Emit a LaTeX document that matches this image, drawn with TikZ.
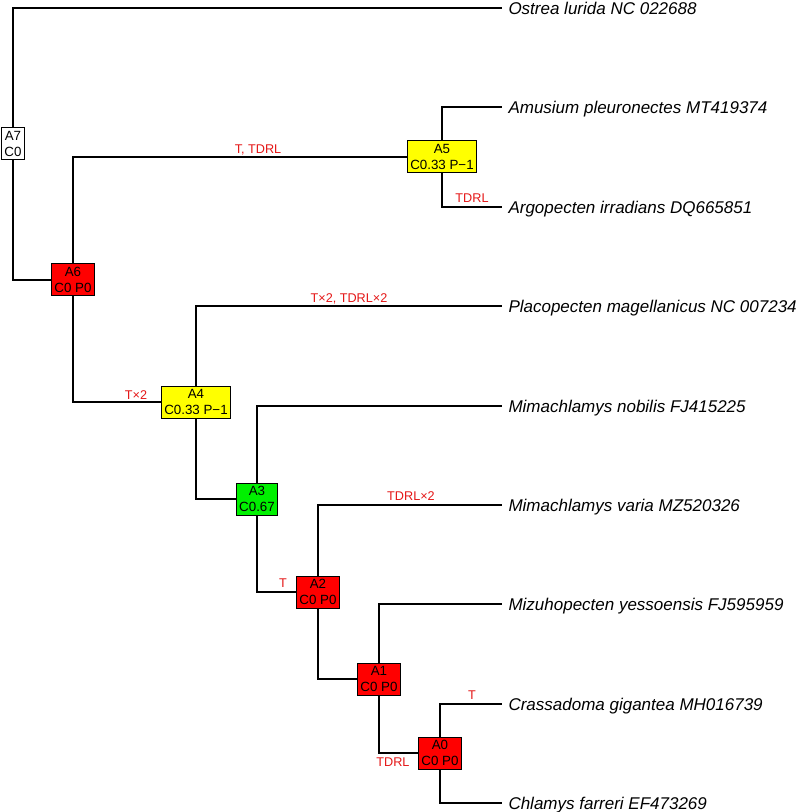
\documentclass[tikz,border=0pt]{standalone}
\usepackage{fontspec}
\setmainfont{Liberation Sans}

\definecolor{evtred}{RGB}{228,22,22}
\definecolor{ancred}{RGB}{255,0,0}
\definecolor{ancyellow}{RGB}{255,255,0}
\definecolor{ancgreen}{RGB}{0,240,0}

\tikzset{every picture/.style={line width=0.75pt}}
\tikzset{
	anc/.style={draw=black, line width=0.75pt, align=center, inner xsep=1.9pt, inner ysep=0pt, minimum height=24pt, font=\fontsize{10}{11.8}\selectfont},
	taxon/.style={anchor=west, inner xsep=4.5pt, inner ysep=0pt, text height=9.2pt, text depth=0pt, font=\fontsize{12.75}{14}\selectfont\itshape},
	evt/.style={text=evtred, inner sep=0pt, text height=6.8pt, text depth=0pt, font=\fontsize{9.5}{11}\selectfont},
	branch/.style={line width=2.2pt},
}

\begin{document}
\begin{tikzpicture}[x=0.75pt,y=0.75pt,yscale=-1,xscale=1]
	\useasboundingbox (0,0) rectangle (798,812);

	% Ancestral nodes
	\node [anc, fill=white] (A7) at (13,144) {A7\\C0};
	\node [anc, fill=ancred] (A6) at (73,280) {A6\\C0 P0};
	\node [anc, fill=ancyellow] (A5) at (442,157) {A5\\C0.33 P−1};
	\node [anc, fill=ancyellow] (A4) at (196,402) {A4\\C0.33 P−1};
	\node [anc, fill=ancgreen] (A3) at (257,499) {A3\\C0.67};
	\node [anc, fill=ancred] (A2) at (318,592) {A2\\C0 P0};
	\node [anc, fill=ancred] (A1) at (379,679) {A1\\C0 P0};
	\node [anc, fill=ancred] (A0) at (440,753) {A0\\C0 P0};

	% Taxa
	\node [taxon] (ostrea) at (502,8) {Ostrea lurida NC 022688};
	\node [taxon] (amusium) at (502,107) {Amusium pleuronectes MT419374};
	\node [taxon] (argopecten) at (502,207) {Argopecten irradians DQ665851};
	\node [taxon] (placopecten) at (502,306) {Placopecten magellanicus NC 007234};
	\node [taxon] (nobilis) at (502,406) {Mimachlamys nobilis FJ415225};
	\node [taxon] (varia) at (502,505) {Mimachlamys varia MZ520326};
	\node [taxon] (mizuhopecten) at (502,604) {Mizuhopecten yessoensis FJ595959};
	\node [taxon] (crassadoma) at (502,704) {Crassadoma gigantea MH016739};
	\node [taxon] (chlamys) at (502,803) {Chlamys farreri EF473269};

	% Branches
	\draw [branch] (A7) |- (ostrea);
	\draw [branch] (A7) |- (A6);
	\draw [branch] (A6) |- (A5);
	\draw [branch] (A6) |- (A4);
	\draw [branch] (A5) |- (amusium);
	\draw [branch] (A5) |- (argopecten);
	\draw [branch] (A4) |- (placopecten);
	\draw [branch] (A4) |- (A3);
	\draw [branch] (A3) |- (nobilis);
	\draw [branch] (A3) |- (A2);
	\draw [branch] (A2) |- (varia);
	\draw [branch] (A2) |- (A1);
	\draw [branch] (A1) |- (mizuhopecten);
	\draw [branch] (A1) |- (A0);
	\draw [branch] (A0) |- (crassadoma);
	\draw [branch] (A0) |- (chlamys);

	% Events
	\node [evt] (evA5) at (258,149) {T, TDRL};
	\node [evt] (evargo) at (472,198) {TDRL};
	\node [evt] (evplaco) at (349,298) {T×2, TDRL×2};
	\node [evt] (evA4) at (136,395) {T×2};
	\node [evt] (evvaria) at (411,496) {TDRL×2};
	\node [evt] (evA2) at (283,583) {T};
	\node [evt] (evcrassa) at (472,695) {T};
	\node [evt] (evA0) at (393,762) {TDRL};

\end{tikzpicture}
\end{document}
